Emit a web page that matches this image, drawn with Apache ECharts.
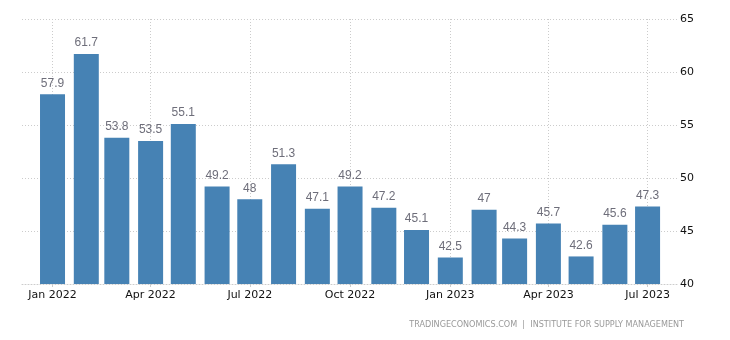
<!DOCTYPE html>
<html><head><meta charset="utf-8">
<script src="https://cdn.jsdelivr.net/npm/echarts@6/dist/echarts.min.js"></script>
<style>html,body{margin:0;padding:0;background:#fff}#c{width:730px;height:340px}</style>
</head><body><div id="c"></div>
<script>
const months = ['2022-01-01','2022-02-01','2022-03-01','2022-04-01','2022-05-01','2022-06-01','2022-07-01','2022-08-01','2022-09-01','2022-10-01','2022-11-01','2022-12-01','2023-01-01','2023-02-01','2023-03-01','2023-04-01','2023-05-01','2023-06-01','2023-07-01'];
const values = [57.9,61.7,53.8,53.5,55.1,49.2,48,51.3,47.1,49.2,47.2,45.1,42.5,47,44.3,45.7,42.6,45.6,47.3];
const yTicks = [40,45,50,55,60,65];
const monthNames = ['Jan','Feb','Mar','Apr','May','Jun','Jul','Aug','Sep','Oct','Nov','Dec'];
const sourceText = 'TRADINGECONOMICS.COM  |  INSTITUTE FOR SUPPLY MANAGEMENT';

const DAY = 86400000;
const toTime = s => { const p = s.split('-'); return new Date(+p[0], +p[1]-1, +p[2]).getTime(); };
const t0 = toTime(months[0]);
const t1 = toTime(months[months.length-1]);
// desired visible extent; ECharts widens a time axis holding bars, so pre-shrink it
const gridLeft = 22, gridRight = 53, barW = 25;
const axisLen = 730 - gridLeft - gridRight;
const wantMin = t0 - 28 * DAY, wantMax = t1 + 27 * DAY;
const wantRange = wantMax - wantMin;
const p = 1 - barW / axisLen;
const rawRange = wantRange * p;
const shrink = (wantRange - rawRange) / 2;

const chart = echarts.init(document.getElementById('c'));
chart.setOption({
  animation: false,
  grid: {left: gridLeft, right: gridRight, top: 19, bottom: 56},
  xAxis: {
    type: 'time',
    min: wantMin + shrink,
    max: wantMax - shrink,
    axisLine: {show: true, lineStyle: {color: '#ccc', type: [1, 2]}},
    axisTick: {show: true, length: 3, lineStyle: {color: '#ccc'}},
    splitLine: {show: true, showMinLine: false, showMaxLine: false, lineStyle: {color: '#ccc', type: [1, 2]}},
    axisLabel: {
      color: '#111', fontFamily: 'DejaVu Sans', fontSize: 11, margin: 6,
      formatter: v => { const d = new Date(v); return monthNames[d.getMonth()] + ' ' + d.getFullYear(); }
    }
  },
  yAxis: {
    type: 'value', position: 'right', min: yTicks[0], max: yTicks[yTicks.length-1], interval: 5,
    axisLine: {show: false}, axisTick: {show: false},
    splitLine: {lineStyle: {color: '#ccc', type: [1, 2]}},
    axisLabel: {color: '#111', fontFamily: 'DejaVu Sans', fontSize: 11, margin: 3}
  },
  series: [{
    type: 'bar',
    barWidth: barW,
    data: months.map((m, i) => [toTime(m), values[i]]),
    itemStyle: {color: '#4682b4'},
    label: {show: true, position: 'top', distance: 5, color: '#6e6e7a', fontFamily: 'Liberation Sans', fontSize: 12,
      formatter: p => String(p.value[1])}
  }],
  graphic: [{
    type: 'text', right: 46, top: 320,
    style: {text: sourceText, fill: '#999', font: '9px "DejaVu Sans Condensed"'}
  }]
});
</script></body></html>
